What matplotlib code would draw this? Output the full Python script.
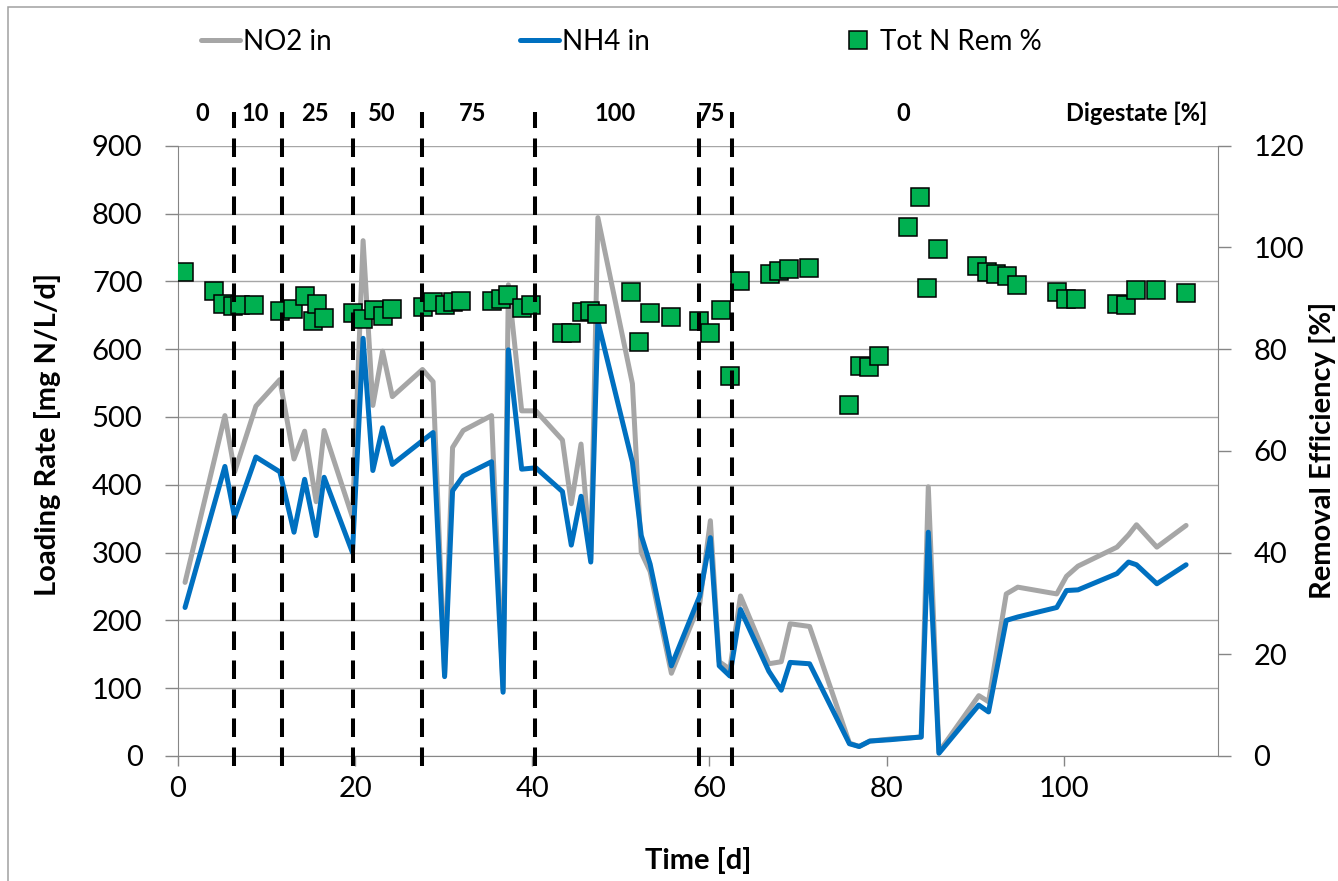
import matplotlib

matplotlib.use("Agg")
import matplotlib.pyplot as plt
from matplotlib.patches import Rectangle

plt.rcParams["font.family"] = ["Lato", "DejaVu Sans"]

# loading rates, mg N/L/d
day = [0.8, 5.3, 6.4, 8.8, 11.5, 13.1, 14.3, 15.6, 16.5, 19.7,
       20.9, 22.0, 23.1, 24.2, 27.6, 28.8, 30.1, 31.0, 32.2, 35.4,
       36.7, 37.3, 38.8, 40.4, 43.4, 44.4, 45.5, 46.6, 47.4, 51.3,
       52.3, 53.3, 55.7, 58.9, 60.1, 61.1, 62.3, 63.5, 66.7, 68.1,
       69.1, 71.3, 75.8, 76.9, 78.1, 80.4, 83.9, 84.7, 85.9, 90.4,
       91.5, 93.5, 94.8, 99.2, 100.3, 101.6, 106.0, 107.3, 108.2, 110.5,
       113.8]
no2_in = [256, 502, 419, 516, 555, 438, 479, 375, 480, 352,
          760, 517, 597, 530, 570, 552, 120, 455, 480, 502,
          97, 695, 509, 509, 466, 372, 460, 290, 794, 549,
          300, 272, 122, 225, 347, 139, 128, 236, 136, 139,
          195, 191, 19, 14, 22, 25, 28, 397, 6, 89,
          80, 239, 249, 239, 265, 280, 308, 326, 341, 308,
          340]
nh4_in = [219, 427, 352, 441, 419, 330, 408, 325, 411, 300,
          616, 421, 484, 430, 465, 477, 117, 391, 413, 434,
          94, 599, 423, 425, 390, 311, 383, 286, 641, 433,
          325, 283, 133, 236, 322, 133, 118, 216, 125, 97,
          138, 136, 18, 14, 22, 24, 28, 330, 4, 75,
          65, 200, 205, 219, 244, 245, 269, 286, 282, 254,
          282]

# total N removal, %
rem_day = [0.7, 4.1, 5.1, 6.2, 7.0, 8.6, 11.5, 13.0, 14.3, 15.3,
           15.7, 16.5, 19.8, 20.9, 22.1, 23.1, 24.2, 27.7, 28.8, 30.1,
           31.0, 31.9, 35.4, 36.5, 37.2, 38.8, 39.9, 43.3, 44.4, 45.6,
           46.5, 47.3, 51.1, 52.1, 53.3, 55.6, 58.8, 60.1, 61.3, 62.3,
           63.4, 66.8, 67.9, 69.0, 71.2, 75.7, 77.0, 78.0, 79.1, 82.4,
           83.8, 84.6, 85.8, 90.2, 91.3, 92.3, 93.6, 94.7, 99.2, 100.3,
           101.4, 106.0, 107.0, 108.2, 110.4, 113.8]
tot_n_rem = [95.2, 91.4, 88.9, 88.4, 88.6, 88.6, 87.5, 87.9, 90.4, 85.5,
             88.8, 86.2, 87.2, 86.0, 87.7, 86.6, 87.9, 88.2, 89.2, 88.7,
             89.2, 89.5, 89.4, 89.9, 90.6, 88.1, 88.6, 83.2, 83.2, 87.3,
             87.5, 87.0, 91.2, 81.5, 87.1, 86.4, 85.6, 83.1, 87.7, 74.7,
             93.4, 94.7, 95.3, 95.7, 96.0, 69.0, 76.6, 76.4, 78.6, 104.0,
             109.9, 92.0, 99.7, 96.3, 95.2, 94.7, 94.3, 92.7, 91.2, 89.9,
             89.8, 88.9, 88.6, 91.6, 91.6, 91.0]

# digestate share phases
phase_bounds = [6.3, 11.8, 19.8, 27.6, 40.3, 58.8, 62.5]
phase_labels = ["0", "10", "25", "50", "75", "100", "75", "0"]
phase_label_x = [2.7, 8.7, 15.5, 23.0, 33.3, 49.4, 60.2, 81.9]

grey = "#868686"

fig = plt.figure(figsize=(13.38, 8.81), dpi=100)
ax = fig.add_axes([0.1330, 0.1419, 0.7773, 0.6927])

l1, = ax.plot(day, no2_in, color="#A6A6A6", lw=3.6, solid_capstyle="round",
              label="NO2 in", zorder=2)
l2, = ax.plot(day, nh4_in, color="#0070C0", lw=3.6, solid_capstyle="round",
              label="NH4 in", zorder=3)
ax.set_xlim(0, 117.4)
ax.set_ylim(0, 900)
ax.set_xticks(range(0, 101, 20))
ax.set_yticks(range(0, 901, 100))
ax.grid(axis="y", color="#A6A6A6", lw=1.0)
ax.set_axisbelow(True)
ax.tick_params(axis="y", length=9.5, width=1, color=grey, labelsize=21, pad=16)
ax.tick_params(axis="x", length=7.5, width=1, color=grey, labelsize=21, pad=7)
for side in ["top", "right"]:
    ax.spines[side].set_visible(False)
for side in ["left", "bottom"]:
    ax.spines[side].set_color(grey)

ax2 = ax.twinx()
l3, = ax2.plot(rem_day, tot_n_rem, ls="none", marker="s", ms=13.5,
               mfc="#00B050", mec="black", mew=1.1, label="Tot N Rem %")
ax2.set_ylim(0, 120)
ax2.set_yticks(range(0, 121, 20))
ax2.tick_params(axis="y", length=9.5, width=1, color=grey, labelsize=21, pad=16)
for side in ["top", "left", "bottom"]:
    ax2.spines[side].set_visible(False)
ax2.spines["right"].set_color(grey)

for b in phase_bounds:
    ax2.axvline(b, ymin=-0.016, ymax=1.055, color="black", lw=2.9,
                dashes=(4.6, 2.6), clip_on=False, zorder=5)

trans = ax.get_xaxis_transform()
for x, txt in zip(phase_label_x, phase_labels):
    ax.text(x, 1.0536, txt, transform=trans, ha="center", va="center",
            fontsize=17, fontweight="bold")
ax.text(116.25, 1.0536, "Digestate [%]", transform=trans, ha="right",
        va="center", fontsize=17, fontweight="bold")

fig.text(48 / 1338, 1 - 434 / 881, "Loading Rate [mg N/L/d]", rotation=90,
         ha="center", va="center", fontsize=21, fontweight="bold")
fig.text(1322 / 1338, 1 - 450 / 881, "Removal Efficiency [%]", rotation=90,
         ha="center", va="center", fontsize=21, fontweight="bold")
fig.text(698 / 1338, 1 - 860 / 881, "Time [d]", ha="center", va="center",
         fontsize=21, fontweight="bold")

fig.legend([l1, l2, l3], ["NO2 in", "NH4 in", "Tot N Rem %"],
           loc="center left", bbox_to_anchor=(201 / 1338, 1 - 42 / 881),
           ncol=3, frameon=False, fontsize=20, handlelength=1.4,
           handletextpad=0.1, columnspacing=6.8, borderpad=0, borderaxespad=0)

fig.add_artist(Rectangle((8 / 1338, -0.05), 1.1, 1.05 - 7 / 881,
                         transform=fig.transFigure, fill=False,
                         ec="#A0A0A0", lw=1.1))

fig.savefig("out.png", dpi=100)
